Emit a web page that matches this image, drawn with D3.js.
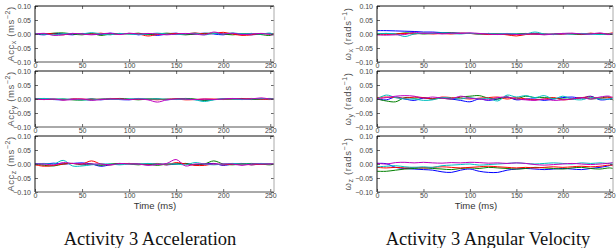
<!DOCTYPE html>
<html><head><meta charset="utf-8">
<script src="https://cdn.jsdelivr.net/npm/d3@7"></script>
<style>body{margin:0;background:#fff}svg{display:block}</style>
</head><body>
<script>
// time samples (ms)
const time = [0,10,20,30,40,50,60,70,80,90,100,110,120,130,140,150,160,170,180,190,200,210,220,230,240,250,254];
const xTicks = [0,50,100,150,200,250];
const yTicks = [-0.10,-0.05,0.00,0.05,0.10];
const seriesColors = ["#0000ff","#008000","#ff0000","#00bfbf","#bf00bf"];
const titles = ["Activity 3 Acceleration","Activity 3 Angular Velocity"];

// Acceleration x/y/z: series blue, green, red, cyan, magenta
const accX = [
 [0.000,-0.003,0.002,0.000,-0.003,0.002,0.000,-0.002,0.003,0.000,0.002,-0.003,0.000,-0.005,0.000,0.003,-0.002,0.000,0.003,0.000,-0.003,0.002,0.000,-0.003,0.000,0.002,0.000],
 [0.002,0.000,0.003,0.004,0.000,-0.003,0.002,-0.005,0.000,0.002,0.000,0.003,-0.002,0.000,0.003,0.000,-0.003,0.000,0.002,0.003,0.000,-0.003,0.000,0.002,-0.002,-0.005,0.000],
 [0.000,0.002,0.000,-0.003,0.002,0.000,0.000,0.003,-0.002,0.000,0.002,0.000,-0.007,-0.002,0.000,0.002,0.000,0.004,0.000,0.002,0.006,0.000,-0.005,-0.003,0.002,0.000,0.002],
 [0.002,0.000,-0.003,0.000,0.002,0.000,0.005,0.000,-0.003,0.002,0.000,-0.002,0.000,0.003,0.000,-0.002,0.000,0.003,-0.003,0.002,0.000,0.004,0.000,0.002,0.000,0.003,-0.002],
 [0.000,0.002,-0.005,-0.003,0.002,0.000,-0.003,0.000,0.003,-0.002,0.003,0.000,0.002,0.000,-0.003,0.000,0.002,0.000,-0.003,0.007,0.000,0.003,-0.002,0.000,0.002,-0.002,-0.004]
];
const accY = [
 [0.000,0.000,-0.002,-0.003,0.000,-0.002,0.000,-0.003,0.000,-0.002,-0.003,0.000,-0.002,0.000,-0.003,0.000,0.000,-0.002,-0.004,-0.002,0.000,0.000,-0.002,0.000,0.000,0.000,0.000],
 [0.002,0.000,-0.002,0.000,-0.003,-0.004,0.000,-0.002,0.000,0.002,0.000,-0.003,0.000,0.000,-0.002,0.000,0.002,0.000,-0.005,-0.002,0.000,0.000,0.002,-0.002,0.000,0.002,0.000],
 [0.000,-0.002,0.000,-0.003,0.000,0.000,-0.002,0.000,0.002,0.000,-0.002,0.000,0.000,-0.003,0.000,0.000,-0.003,-0.002,0.000,0.000,-0.002,0.000,0.000,0.002,0.000,-0.002,0.000],
 [0.000,0.002,0.000,0.000,-0.002,-0.003,-0.004,0.000,0.000,-0.002,0.000,0.002,0.000,0.000,0.000,-0.002,0.000,-0.003,-0.009,-0.003,0.000,0.000,-0.002,0.000,0.002,0.000,0.000],
 [0.000,-0.002,0.000,-0.004,-0.002,0.000,-0.005,-0.002,0.000,0.000,-0.002,0.000,-0.003,-0.011,-0.003,0.000,0.000,-0.002,0.000,-0.002,0.000,0.002,0.000,0.000,0.004,0.000,0.000]
];
const accZ = [
 [0.002,0.000,0.003,0.000,0.002,0.004,0.000,-0.008,-0.003,0.000,0.002,0.000,-0.003,0.000,-0.003,0.000,0.002,-0.003,0.000,0.002,-0.005,0.000,0.002,-0.003,0.000,0.000,0.000],
 [0.000,-0.005,-0.007,0.000,0.002,-0.003,0.000,-0.005,0.000,0.002,0.000,-0.003,0.000,-0.005,0.000,0.000,0.002,-0.003,0.000,0.011,0.000,-0.003,0.000,0.002,0.000,-0.003,0.000],
 [-0.003,-0.008,-0.005,0.000,0.002,0.000,0.011,0.000,-0.003,0.000,0.002,0.000,0.000,0.002,-0.003,0.005,0.000,-0.005,-0.005,0.000,-0.003,0.000,0.000,-0.003,0.000,0.000,0.000],
 [0.000,0.002,0.000,0.013,-0.007,-0.007,-0.003,0.000,0.000,-0.003,0.000,0.000,0.002,0.000,0.000,0.000,-0.003,0.005,0.000,-0.003,0.000,0.002,0.000,0.000,0.002,0.000,0.000],
 [0.000,0.000,-0.003,0.005,0.002,0.000,0.000,0.000,-0.003,0.002,0.000,0.000,-0.005,-0.002,0.002,0.016,-0.007,0.000,0.000,0.000,0.000,0.000,-0.005,0.000,0.000,0.000,0.000]
];
// Angular velocity x/y/z
const gyrX = [
 [0.012,0.012,0.011,0.010,0.009,0.007,0.007,0.005,0.004,0.003,0.002,0.001,0.000,0.000,0.001,-0.001,0.000,0.001,0.000,-0.001,0.000,0.001,0.000,0.000,0.001,0.000,0.000],
 [0.000,0.002,0.000,0.004,0.003,0.000,0.002,0.003,0.004,0.002,0.002,0.000,0.002,0.000,-0.002,0.000,0.002,0.000,-0.002,0.000,0.002,0.000,-0.002,0.002,0.000,-0.002,0.000],
 [-0.002,-0.002,0.000,0.002,0.000,0.003,0.000,0.002,0.000,0.003,0.002,0.000,-0.002,0.000,-0.003,-0.007,-0.002,0.000,0.000,-0.002,0.000,0.002,0.000,0.003,0.000,0.002,0.005],
 [0.000,0.002,0.000,-0.009,0.000,0.003,0.002,0.004,0.002,0.000,0.003,0.000,0.002,0.000,0.002,0.000,0.000,0.007,0.000,-0.002,0.002,0.000,0.002,0.000,-0.002,0.000,0.000],
 [-0.003,-0.004,-0.003,-0.002,0.006,0.002,0.004,0.000,0.003,0.002,0.004,0.002,0.000,-0.002,0.000,-0.002,0.000,0.000,-0.003,0.000,0.002,0.003,0.000,0.000,0.004,-0.002,0.002]
];
const gyrY = [
 [0.000,-0.003,0.007,0.000,-0.005,0.003,0.000,0.005,0.000,-0.005,-0.010,0.000,-0.005,0.000,0.007,-0.003,0.000,0.000,-0.005,0.000,0.005,0.007,0.003,0.010,-0.003,0.000,0.005],
 [0.000,-0.007,-0.010,0.005,0.003,0.005,0.000,0.003,0.000,0.007,0.010,0.012,0.003,0.000,0.007,0.000,0.010,0.005,0.005,0.003,0.000,0.000,0.005,0.000,0.003,0.007,-0.005],
 [0.005,0.007,0.005,0.003,0.007,0.005,0.000,0.007,0.005,0.003,0.000,0.003,0.005,0.007,0.000,0.005,0.000,-0.003,0.000,0.005,-0.003,0.000,0.005,0.007,0.003,0.005,0.007],
 [0.000,0.014,0.005,0.000,0.000,-0.005,-0.003,0.005,0.003,0.000,0.005,0.000,0.003,-0.007,0.014,0.007,0.012,0.005,0.012,0.000,0.010,0.000,-0.003,0.005,0.000,0.000,0.003],
 [0.000,0.005,0.010,0.012,0.010,0.003,0.007,0.003,0.000,0.010,0.003,0.000,-0.003,0.005,0.007,0.000,-0.003,-0.005,0.000,-0.005,-0.003,0.000,0.005,0.000,0.007,0.010,0.003]
];
const gyrZ = [
 [0.002,0.001,-0.012,-0.016,-0.018,-0.020,-0.022,-0.028,-0.030,-0.022,-0.018,-0.026,-0.030,-0.030,-0.022,-0.018,-0.016,-0.018,-0.020,-0.018,-0.016,-0.018,-0.020,-0.016,-0.012,-0.006,-0.002],
 [-0.026,-0.026,-0.022,-0.018,-0.016,-0.014,-0.016,-0.018,-0.020,-0.016,-0.014,-0.016,-0.012,-0.014,-0.016,-0.018,-0.016,-0.012,-0.014,-0.016,-0.018,-0.014,-0.012,-0.016,-0.018,-0.014,-0.016],
 [-0.012,-0.014,-0.012,-0.014,-0.012,-0.014,-0.012,-0.010,-0.012,-0.014,-0.012,-0.010,-0.008,-0.010,-0.012,-0.014,-0.012,-0.014,-0.012,-0.010,-0.012,-0.010,-0.008,-0.010,-0.008,-0.004,-0.006],
 [-0.010,-0.008,-0.006,-0.010,-0.012,-0.010,-0.012,-0.006,-0.004,-0.002,0.000,-0.004,-0.002,0.000,0.002,0.004,0.002,0.000,0.002,0.004,0.002,0.000,0.004,0.002,0.004,0.002,0.004],
 [0.003,0.000,0.005,0.006,0.004,0.006,0.004,0.003,0.005,0.004,0.006,0.005,0.003,0.004,0.002,0.004,0.002,-0.002,-0.004,-0.002,0.000,0.002,0.000,-0.002,0.000,0.003,0.005]
];

const W = 616, H = 248;
const svg = d3.select("body").append("svg").attr("width", W).attr("height", H)
  .style("font-family", "'Liberation Sans', Arial, sans-serif");

const cols = [
  {x0: 35, x1: 274, data: [accX, accY, accZ], lab: "Acc", unit: "ms", exp: "\u22122", labX: 14, timeX: 155, titleX: 150},
  {x0: 377, x1: 613, data: [gyrX, gyrY, gyrZ], lab: "\u03c9", unit: "rads", exp: "\u22121", labX: 351, timeX: 476, titleX: 488}
];
const subs = ["x","y","z"];
const panelTops = [6, 71, 136];
const ph = 56;
const fmt = d => (d < 0 ? "\u2212" : "") + Math.abs(d).toFixed(2);

cols.forEach((c, ci) => {
  const x = d3.scaleLinear().domain([0, 254]).range([c.x0, c.x1]);
  c.data.forEach((panel, pi) => {
    const top = panelTops[pi], bot = top + ph;
    const y = d3.scaleLinear().domain([-0.1, 0.1]).range([bot, top]);
    const g = svg.append("g");
    const line = d3.line().x((d, i) => x(time[i])).y(d => y(d)).curve(d3.curveCatmullRom);
    panel.forEach((s, si) => {
      g.append("path").attr("d", line(s)).attr("fill", "none")
        .attr("stroke", seriesColors[si]).attr("stroke-width", 1);
    });
    const ax = g.append("g").attr("transform", `translate(${c.x0},0)`)
      .call(d3.axisLeft(y).tickValues(yTicks).tickSize(-3).tickPadding(4).tickFormat(fmt));
    const axR = g.append("g").attr("transform", `translate(${c.x1},0)`)
      .call(d3.axisRight(y).tickValues(yTicks).tickSize(-3).tickFormat(""));
    const axB = g.append("g").attr("transform", `translate(0,${bot})`)
      .call(d3.axisBottom(x).tickValues(xTicks).tickSize(-3).tickPadding(2));
    const axT = g.append("g").attr("transform", `translate(0,${top})`)
      .call(d3.axisTop(x).tickValues(xTicks).tickSize(-3).tickFormat(""));
    [ax, axR, axB, axT].forEach(a => {
      a.select(".domain").remove();
      a.selectAll("line").attr("stroke", "#444").attr("stroke-width", 0.8);
      a.selectAll("text").attr("font-size", 7).attr("fill", "#444")
        .attr("font-family", "'Liberation Sans', Arial, sans-serif");
    });
    axB.selectAll("text").attr("dy", "0.6em");
    g.append("line").attr("x1", c.x0).attr("x2", c.x1).attr("y1", top).attr("y2", top).attr("stroke", "#111").attr("stroke-width", 1);
    g.append("line").attr("x1", c.x0).attr("x2", c.x0).attr("y1", top).attr("y2", bot).attr("stroke", "#111").attr("stroke-width", 1);
    g.append("line").attr("x1", c.x0).attr("x2", c.x1).attr("y1", bot).attr("y2", bot).attr("stroke", "#555").attr("stroke-width", 1);
    g.append("line").attr("x1", c.x1).attr("x2", c.x1).attr("y1", top).attr("y2", bot).attr("stroke", "#aaa").attr("stroke-width", 1);
    const t = svg.append("text").attr("transform", `translate(${c.labX},${(top + bot) / 2}) rotate(-90)`)
      .attr("text-anchor", "middle").attr("font-size", 9.5).attr("fill", "#555")
      .attr("letter-spacing", 0.6);
    t.append("tspan").text(c.lab);
    t.append("tspan").text(subs[pi]).attr("font-size", 7).attr("dy", 2);
    t.append("tspan").text(" (" + c.unit).attr("dy", -2);
    t.append("tspan").text(c.exp).attr("font-size", 7).attr("dy", -4);
    t.append("tspan").text(")").attr("dy", 4);
  });
  svg.append("text").attr("x", c.timeX).attr("y", 209).attr("text-anchor", "middle")
    .attr("font-size", 9.5).attr("fill", "#333").text("Time (ms)");
  svg.append("text").attr("x", c.titleX).attr("y", 245).attr("text-anchor", "middle")
    .attr("font-size", 18.5).attr("fill", "#111")
    .attr("font-family", "'Liberation Serif', 'Times New Roman', serif").text(titles[ci]);
});
</script>
</body></html>
